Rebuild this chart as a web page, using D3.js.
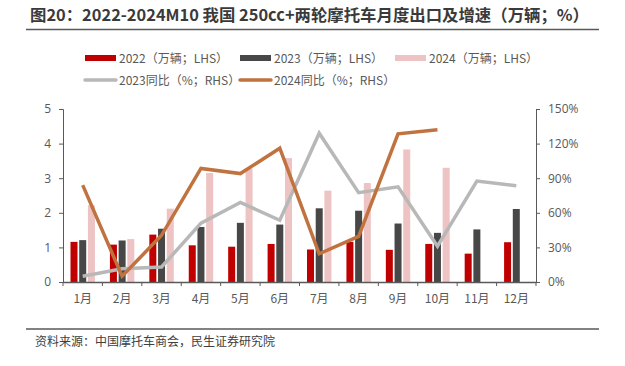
<!DOCTYPE html>
<html>
<head>
<meta charset="utf-8">
<script src="https://cdn.jsdelivr.net/npm/d3@7"></script>
<style>
  body { margin: 0; background: #fff; }
  svg { display: block; font-family: "Noto Sans CJK SC", "Noto Sans", sans-serif; }
</style>
</head>
<body>
<svg id="chart" width="625" height="366"></svg>
<script>
// data (万辆 / %)
const months = ["1月", "2月", "3月", "4月", "5月", "6月", "7月", "8月", "9月", "10月", "11月", "12月"];
const sales2022 = [1.16, 1.08, 1.37, 1.06, 1.02, 1.10, 0.94, 1.16, 0.93, 1.10, 0.82, 1.15];
const sales2023 = [1.21, 1.20, 1.54, 1.59, 1.71, 1.66, 2.13, 2.06, 1.69, 1.42, 1.52, 2.11];
const sales2024 = [2.22, 1.24, 2.12, 3.15, 3.28, 3.58, 2.64, 2.86, 3.83, 3.30];
const yoy2023 = [5, 11.5, 13, 51, 69, 53.5, 129, 77.5, 82.5, 31, 87.5, 83.5];
const yoy2024 = [84, 5, 40.5, 98.5, 94, 116, 24.5, 39.5, 128.5, 132];
const leftTicks = [0, 1, 2, 3, 4, 5];
const rightTicks = [0, 30, 60, 90, 120, 150];

const svg = d3.select("#chart");
const margin = { left: 63, right: 89, top: 109, bottom: 84 };
const W = 625, H = 366;
const axisColor = "#595959";

// title
svg.append("text")
    .attr("x", 30).attr("y", 21)
    .attr("font-size", 16.4).attr("font-weight", "bold")
    .attr("fill", "#3a3a3a")
    .text("图20：2022-2024M10 我国 250cc+两轮摩托车月度出口及增速（万辆；%）");
svg.append("line")
    .attr("x1", 26).attr("x2", 599).attr("y1", 29.5).attr("y2", 29.5)
    .attr("stroke", "#595959").attr("stroke-width", 1.5);

const x = d3.scaleBand().domain(months)
    .range([margin.left, W - margin.right]);
const yL = d3.scaleLinear().domain([0, 5]).range([H - margin.bottom, margin.top]);
const yR = d3.scaleLinear().domain([0, 150]).range([H - margin.bottom, margin.top]);

// bars
const barW = 7, gap = 1.7;
const series = [
    { data: sales2022, color: "#c00000", k: -1 },
    { data: sales2023, color: "#474747", k: 0 },
    { data: sales2024, color: "#edc3c3", k: 1 }
];
series.forEach(s => {
    svg.append("g").selectAll("rect")
        .data(s.data)
        .join("rect")
        .attr("x", (d, i) => x(months[i]) + x.bandwidth() / 2 + s.k * (barW + gap) - barW / 2)
        .attr("y", d => yL(d))
        .attr("width", barW)
        .attr("height", d => yL(0) - yL(d))
        .attr("fill", s.color);
});

// lines
const line = d3.line()
    .x((d, i) => x(months[i]) + x.bandwidth() / 2)
    .y(d => yR(d));
svg.append("path").datum(yoy2023)
    .attr("d", line).attr("fill", "none")
    .attr("stroke", "#b8b8b8").attr("stroke-width", 3.5);
svg.append("path").datum(yoy2024)
    .attr("d", line).attr("fill", "none")
    .attr("stroke", "#c0733f").attr("stroke-width", 3.5);

// axes
function styleAxis(g) {
    g.selectAll("path,line").attr("stroke", axisColor);
    g.selectAll("text").attr("fill", axisColor).attr("font-size", 12)
        .attr("font-family", "'Open Sans', 'Noto Sans CJK SC', sans-serif");
}
svg.append("g")
    .attr("transform", `translate(${margin.left},0)`)
    .call(d3.axisLeft(yL).tickValues(leftTicks).tickFormat(d3.format("d")).tickSize(4).tickSizeOuter(4).tickPadding(8))
    .call(styleAxis);
svg.append("g")
    .attr("transform", `translate(${W - margin.right},0)`)
    .call(d3.axisRight(yR).tickValues(rightTicks).tickFormat(d => d + "%").tickSize(4).tickSizeOuter(4).tickPadding(8))
    .call(styleAxis);
const xAxis = svg.append("g")
    .attr("transform", `translate(0,${H - margin.bottom})`)
    .call(d3.axisBottom(x).tickSize(0).tickPadding(12))
    .call(styleAxis);
xAxis.select(".domain").attr("stroke-width", 1.5);
xAxis.selectAll(".tick text").attr("font-family", "'Noto Sans CJK SC', sans-serif");
// category boundary ticks
svg.append("g").selectAll("line")
    .data(months.concat(["end"]))
    .join("line")
    .attr("x1", (d, i) => margin.left + i * x.step())
    .attr("x2", (d, i) => margin.left + i * x.step())
    .attr("y1", H - margin.bottom)
    .attr("y2", H - margin.bottom + 4)
    .attr("stroke", axisColor);

// legend
const legend = [
    { label: "2022（万辆；LHS）", color: "#c00000", type: "bar", x: 85, y: 58 },
    { label: "2023（万辆；LHS）", color: "#474747", type: "bar", x: 240, y: 58 },
    { label: "2024（万辆；LHS）", color: "#edc3c3", type: "bar", x: 395, y: 58 },
    { label: "2023同比（%；RHS）", color: "#b8b8b8", type: "line", x: 85, y: 80 },
    { label: "2024同比（%；RHS）", color: "#c0733f", type: "line", x: 240, y: 80 }
];
const lg = svg.append("g").selectAll("g").data(legend).join("g")
    .attr("transform", d => `translate(${d.x},${d.y})`);
lg.filter(d => d.type === "bar").append("rect")
    .attr("x", 0).attr("y", -3).attr("width", 31).attr("height", 6)
    .attr("fill", d => d.color);
lg.filter(d => d.type === "line").append("line")
    .attr("x1", 0).attr("x2", 31).attr("y1", 0).attr("y2", 0)
    .attr("stroke", d => d.color).attr("stroke-width", 3.5).attr("stroke-linecap", "round");
lg.append("text")
    .attr("x", 34).attr("y", 4.5)
    .attr("font-size", 12).attr("fill", axisColor)
    .text(d => d.label);

// source
svg.append("line")
    .attr("x1", 26).attr("x2", 599).attr("y1", 329).attr("y2", 329)
    .attr("stroke", "#595959").attr("stroke-width", 1.5);
svg.append("text")
    .attr("x", 35).attr("y", 346)
    .attr("font-size", 12).attr("fill", "#404040")
    .text("资料来源：中国摩托车商会，民生证券研究院");
</script>
</body>
</html>
